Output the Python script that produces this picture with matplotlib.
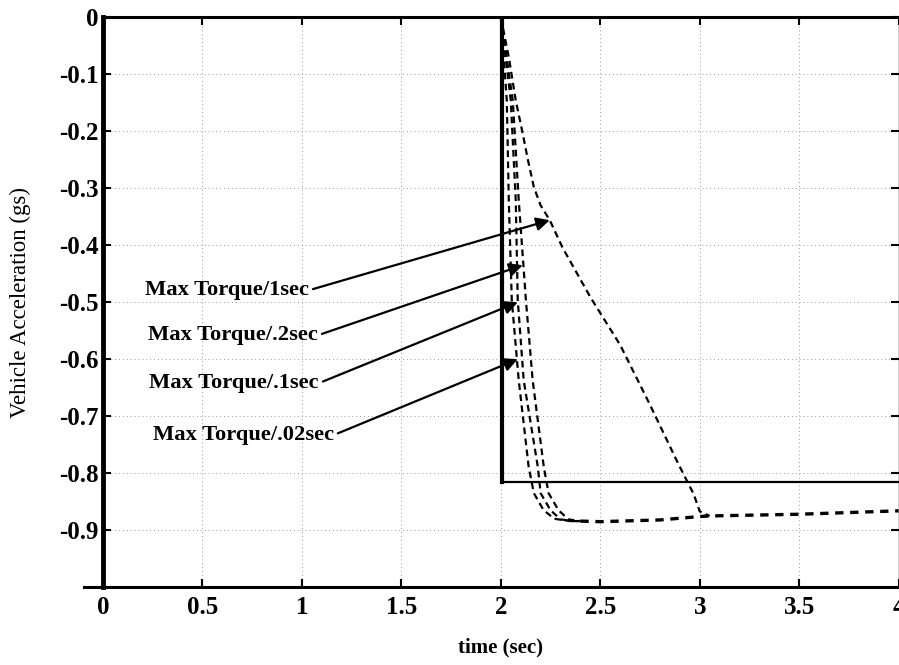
import matplotlib
matplotlib.use('Agg')
import matplotlib.pyplot as plt

plt.rcParams['font.family'] = ['Liberation Serif', 'DejaVu Serif']

# response curves (time in sec, acceleration in gs)
t_1s = [2.0, 2.04, 2.075, 2.11, 2.136, 2.166, 2.2, 2.246, 2.31, 2.45, 2.60, 2.75, 2.89, 2.97, 3.0, 3.05]
a_1s = [0, -0.07, -0.146, -0.204, -0.25, -0.298, -0.33, -0.356, -0.404, -0.491, -0.575, -0.68, -0.782, -0.837, -0.867, -0.875]

t_02s = [2.0, 2.06, 2.09, 2.126, 2.16, 2.216, 2.24, 2.29, 2.34, 2.4]
a_02s = [0, -0.146, -0.321, -0.496, -0.637, -0.789, -0.835, -0.865, -0.881, -0.884]

t_01s = [2.0, 2.05, 2.075, 2.085, 2.115, 2.186, 2.20, 2.25, 2.30, 2.36, 2.4]
a_01s = [0, -0.146, -0.321, -0.496, -0.637, -0.789, -0.835, -0.865, -0.881, -0.884, -0.884]

t_002s = [2.0, 2.03, 2.04, 2.055, 2.09, 2.14, 2.166, 2.215, 2.27, 2.35, 2.4]
a_002s = [0, -0.146, -0.321, -0.496, -0.637, -0.789, -0.835, -0.865, -0.880, -0.884, -0.884]

# settled part shared by all four responses
t_settle = [2.4, 2.5, 2.8, 3.0, 3.05, 3.5, 4.0]
a_settle = [-0.884, -0.885, -0.882, -0.876, -0.875, -0.872, -0.866]

labels = ['Max Torque/1sec', 'Max Torque/.2sec', 'Max Torque/.1sec', 'Max Torque/.02sec']
label_xy = [(1.035, -0.479), (1.08, -0.558), (1.085, -0.642), (1.16, -0.733)]
arrow_xy = [(2.246, -0.356), (2.11, -0.435), (2.085, -0.50), (2.085, -0.60)]

xticks = [0, 0.5, 1, 1.5, 2, 2.5, 3, 3.5, 4]
xticklabels = ['0', '0.5', '1', '1.5', '2', '2.5', '3', '3.5', '4']
yticks = [0, -0.1, -0.2, -0.3, -0.4, -0.5, -0.6, -0.7, -0.8, -0.9]
yticklabels = ['0', '-0.1', '-0.2', '-0.3', '-0.4', '-0.5', '-0.6', '-0.7', '-0.8', '-0.9']

# pasted inset frame seen in the scan
box_x = 2.008
box_y = -0.816

fig = plt.figure(figsize=(8.99, 6.65), dpi=100)
ax = fig.add_axes([0.1146, 0.117, 0.885, 0.857])

ax.grid(True, linestyle=(0, (1, 3)), color='#999999', linewidth=0.7)

ls = (0, (3, 2))
for t, a in [(t_1s, a_1s), (t_02s, a_02s), (t_01s, a_01s), (t_002s, a_002s)]:
    ax.plot(t, a, color='black', linestyle=ls, linewidth=1.6)
ax.plot(t_settle, a_settle, color='black', linestyle=(0, (2.5, 2)), linewidth=2.4)

ax.plot([box_x, box_x], [0, box_y], color='black', linewidth=3)
ax.plot([box_x, 4], [box_y, box_y], color='black', linewidth=1.6)

for lab, (tx, ty), (ax_, ay) in zip(labels, label_xy, arrow_xy):
    ax.annotate(lab, xy=(ax_, ay), xytext=(tx, ty), ha='right', va='center',
                fontsize=16.2, fontweight='bold',
                arrowprops=dict(arrowstyle='-|>', color='black', lw=1.6,
                                mutation_scale=20, shrinkA=1, shrinkB=0,
                                relpos=(1, 0.5)))

ax.set_xlim(0, 4)
ax.set_ylim(-1, 0)
ax.set_xticks(xticks)
ax.set_xticklabels(xticklabels, fontsize=18, fontweight='bold')
ax.set_yticks(yticks)
ax.set_yticklabels(yticklabels, fontsize=18, fontweight='bold')
ax.tick_params(direction='in', length=6, width=1.5, top=True, right=True)
ax.tick_params(axis='y', pad=3)
ax.tick_params(axis='x', pad=6)

ax.spines['left'].set_linewidth(3.5)
ax.spines['top'].set_linewidth(2.2)
ax.spines['bottom'].set_linewidth(2.2)
ax.spines['right'].set_linewidth(1.0)
ax.spines['bottom'].set_bounds(-0.095, 4)

ax.set_ylabel('Vehicle Acceleration (gs)', fontsize=16.5, labelpad=20)
ax.set_xlabel('time (sec)', fontsize=15, fontweight='bold', labelpad=14)

fig.savefig('out.png', dpi=100)
